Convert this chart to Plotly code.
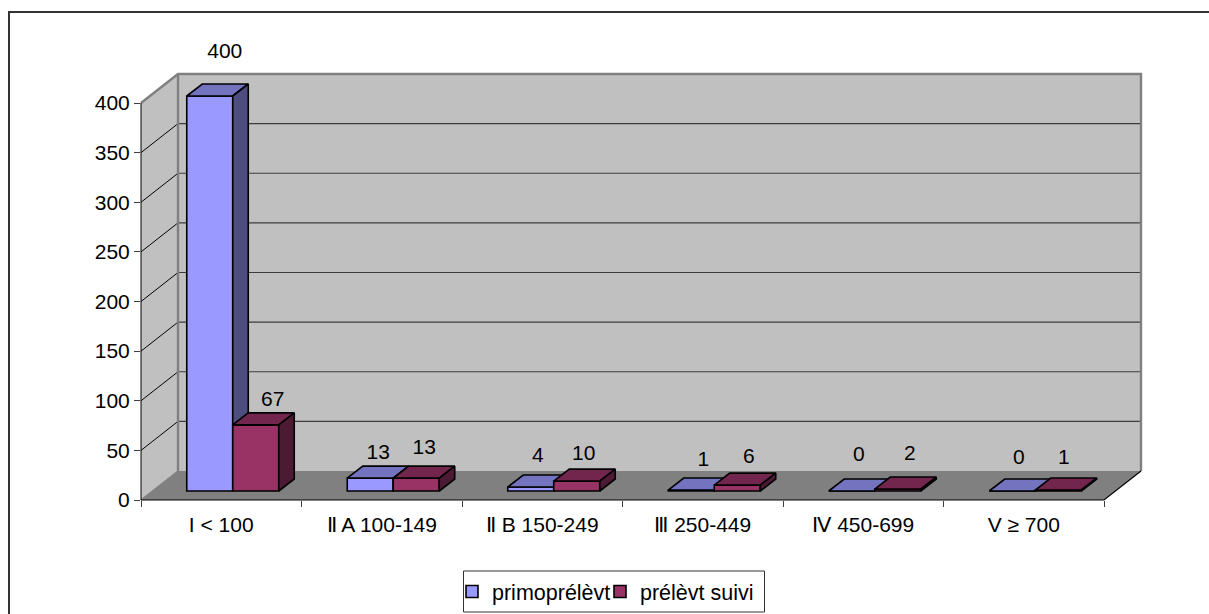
import plotly.graph_objects as go

# Chart data
categories = ["I < 100", "Ⅱ A 100-149", "Ⅱ B 150-249", "Ⅲ 250-449", "Ⅳ 450-699", "V ≥ 700"]
primo = [400, 13, 4, 1, 0, 0]
suivi = [67, 13, 10, 6, 2, 1]
y_ticks = [0, 50, 100, 150, 200, 250, 300, 350, 400]

# Pixel layout of the pseudo-3D box
W, H = 1209, 614
X0, Y0 = 141, 500          # front-left corner of the floor
CAT_W = (1104 - 141) / 6   # pixels per category
PX_PER_UNIT = 397 / 400    # pixels per value unit on the axis
WALL_DX, WALL_DY = 37, 29  # depth of the whole box
BAR_Y0 = 491               # baseline of the bars, set back from the front edge
BAR_PX_PER_UNIT = 395 / 400  # bars sit deeper in the box, so they scale a little smaller
PLANE_DX = 11.5            # sideways shift of the bars' front plane
BAR_DX, BAR_DY = 15.5, 12  # depth of one bar
BAR_W = 46

ux = lambda px: px / CAT_W
uy = lambda px: px / PX_PER_UNIT
bar_uy = lambda px: px / BAR_PX_PER_UNIT

PAGE_X = [-X0 / CAT_W - 0.5, (W - X0) / CAT_W - 0.5]
PAGE_Y = [(Y0 - H) / PX_PER_UNIT, Y0 / PX_PER_UNIT]
BAR_PAGE_Y = [(BAR_Y0 - H) / BAR_PX_PER_UNIT, BAR_Y0 / BAR_PX_PER_UNIT]

depth_x, depth_y = ux(WALL_DX), uy(WALL_DY)
left, right = -0.5, 5.5
top = y_ticks[-1]

FRAME = "#333333"
WALL = "#C0C0C0"
FLOOR = "#808080"
EDGE = "#808080"
FONT = "Liberation Sans, Arial, sans-serif"
FONT_SIZE = 21

fig = go.Figure()


def polygon(xs, ys, fill, axes, line_color="black", line_width=0):
    fig.add_trace(go.Scatter(
        x=xs + xs[:1], y=ys + ys[:1], mode="lines", fill="toself", fillcolor=fill,
        line=dict(color=line_color, width=line_width), showlegend=False,
        hoverinfo="skip", xaxis=axes[0], yaxis=axes[1],
    ))


def segment(xs, ys, color, width, axes=("x", "y")):
    fig.add_trace(go.Scatter(
        x=xs, y=ys, mode="lines", line=dict(color=color, width=width),
        showlegend=False, hoverinfo="skip", xaxis=axes[0], yaxis=axes[1],
    ))


# Walls and floor
polygon([left + depth_x, right + depth_x, right + depth_x, left + depth_x],
        [depth_y, depth_y, top + depth_y, top + depth_y], WALL, ("x", "y"))
polygon([left, left + depth_x, left + depth_x, left],
        [0, depth_y, top + depth_y, top], WALL, ("x", "y"))
polygon([left, right, right + depth_x, left + depth_x],
        [0, 0, depth_y, depth_y], FLOOR, ("x", "y"))

# Gridlines run along the left wall and then across the back wall
for tick in y_ticks[1:-1]:
    segment([left, left + depth_x], [tick, tick + depth_y], "#000000", 1)
    segment([left + depth_x, right + depth_x], [tick + depth_y] * 2, "#3c3c3c", 1.2)

# Box edges
segment([left, left + depth_x, right + depth_x, right + depth_x],
        [top, top + depth_y, top + depth_y, depth_y], EDGE, 2.4)
segment([left + depth_x, left + depth_x], [depth_y, top + depth_y], EDGE, 2.4)
segment([left, left + depth_x], [0, depth_y], EDGE, 1.5)
segment([left, left], [0, top], "#000000", 1)
segment([left, right, right + depth_x], [0, 0, depth_y], "#000000", 1.2)


def draw_series(name, values, offset, front, top_fill, side, axes, legend_id):
    bar_w, dx, dy = ux(BAR_W), ux(BAR_DX), bar_uy(BAR_DY)
    lefts = [i + ux(PLANE_DX) + offset * bar_w for i in range(len(values))]
    fig.add_trace(go.Bar(
        name=name, x=[p + bar_w / 2 for p in lefts], y=values, width=bar_w,
        marker=dict(color=front, line=dict(color="black", width=1.6)),
        xaxis=axes[0], yaxis=axes[1], hoverinfo="skip", legend=legend_id,
    ))
    for p, v in zip(lefts, values):
        polygon([p, p + bar_w, p + bar_w + dx, p + dx],
                [v, v, v + dy, v + dy], top_fill, axes, "black", 1.6)
        if v > 0:
            polygon([p + bar_w, p + bar_w + dx, p + bar_w + dx, p + bar_w],
                    [0, dy, v + dy, v], side, axes, "black", 1.6)


draw_series("primoprélèvt", primo, -1, "#9999FF", "#7373BF", "#4D4D80", ("x2", "y2"), "legend")
draw_series("prélèvt suivi", suivi, 0, "#993366", "#73264D", "#4D1A33", ("x3", "y3"), "legend2")

# Value labels, placed clear of the bar tops
label_shift_x = [[15, 8, 7, 12, 7, 6.5], [17, 8, 7, 11.5, 12, 5.5]]
label_lift = [[43, 24, 30, 29, 35, 32], [24, 29, 26, 27, 34, 31]]
for s, values in enumerate([primo, suivi]):
    offset = s - 1
    xs, ys = [], []
    for i, v in enumerate(values):
        xs.append(i + ux(PLANE_DX) + (offset + 0.5) * ux(BAR_W) + ux(label_shift_x[s][i]))
        ys.append(v + bar_uy(label_lift[s][i]))
    fig.add_trace(go.Scatter(
        x=xs, y=ys, mode="text", text=[str(v) for v in values], textposition="middle center",
        textfont=dict(family=FONT, size=FONT_SIZE, color="black"), showlegend=False,
        hoverinfo="skip", xaxis="x3", yaxis="y3",
    ))

# Carrier trace for the labelled axes
fig.add_trace(go.Scatter(
    x=categories, y=primo, mode="markers", marker=dict(opacity=0), showlegend=False,
    hoverinfo="skip", xaxis="x4", yaxis="y4",
))

page_axis = dict(visible=False, range=PAGE_X, domain=[0, 1], fixedrange=True)
page_yaxis = dict(visible=False, range=PAGE_Y, domain=[0, 1], fixedrange=True)
bar_yaxis = dict(visible=False, range=BAR_PAGE_Y, domain=[0, 1], fixedrange=True)
legend_style = dict(
    orientation="h", y=1 - 591.5 / H, xanchor="left", yanchor="middle",
    bgcolor="rgba(0,0,0,0)", font=dict(family=FONT, size=21.5),
)

fig.update_layout(
    width=W, height=H, margin=dict(l=0, r=0, t=0, b=0, autoexpand=False), autosize=False,
    paper_bgcolor="white", plot_bgcolor="rgba(0,0,0,0)",
    font=dict(family=FONT, size=FONT_SIZE, color="black"),
    barmode="overlay",
    xaxis=dict(page_axis, anchor="y"), yaxis=dict(page_yaxis, anchor="x"),
    xaxis2=dict(page_axis, anchor="y2"), yaxis2=dict(bar_yaxis, anchor="x2"),
    xaxis3=dict(page_axis, anchor="y3"), yaxis3=dict(bar_yaxis, anchor="x3"),
    xaxis4=dict(
        anchor="y4", domain=[X0 / W, 1104 / W], type="category",
        categoryorder="array", categoryarray=categories, range=[-0.5, 5.5],
        tickson="boundaries", ticks="outside", ticklen=6, tickcolor="#404040", tickwidth=1,
        showgrid=False, zeroline=False, showline=False, fixedrange=True,
        tickfont=dict(family=FONT, size=FONT_SIZE), ticklabelstandoff=10,
    ),
    yaxis4=dict(
        anchor="x4", domain=[(H - Y0) / H, (H - 103) / H], range=[0, top],
        tickvals=y_ticks, ticks="outside", ticklen=6, tickcolor="#404040", tickwidth=1,
        showgrid=False, zeroline=False, showline=False, fixedrange=True,
        tickfont=dict(family=FONT, size=FONT_SIZE),
    ),
    legend=dict(legend_style, x=452 / W),
    legend2=dict(legend_style, x=600 / W),
    shapes=[
        # Outer frame: left and top sides only reach the page edge
        dict(type="line", xref="paper", yref="paper", x0=9 / W, x1=9 / W,
             y0=0, y1=1 - 12 / H, line=dict(color=FRAME, width=2)),
        dict(type="line", xref="paper", yref="paper", x0=8 / W, x1=1,
             y0=1 - 12 / H, y1=1 - 12 / H, line=dict(color=FRAME, width=2)),
        # Legend box
        dict(type="rect", xref="paper", yref="paper", x0=463.5 / W, x1=764.5 / W,
             y0=1 - 612 / H, y1=1 - 571 / H, line=dict(color="#333333", width=1)),
    ],
)

fig.write_html("out.html")
